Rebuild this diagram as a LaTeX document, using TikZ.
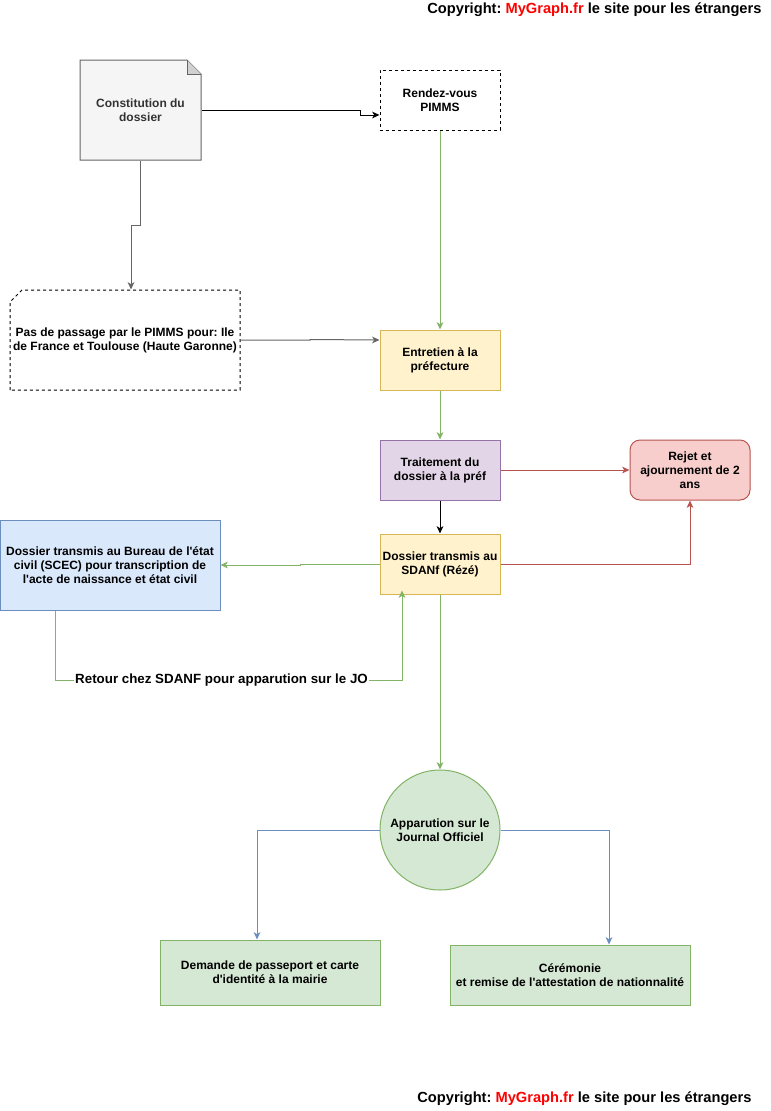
\documentclass[tikz,border=0pt]{standalone}
\usepackage{fontspec}
\setmainfont{Liberation Sans}
\usetikzlibrary{arrows.meta}
\frenchspacing
\definecolor{grayfill}{HTML}{F5F5F5}
\definecolor{graydraw}{HTML}{666666}
\definecolor{graytext}{HTML}{333333}
\definecolor{yelfill}{HTML}{FFF2CC}
\definecolor{yeldraw}{HTML}{D6B656}
\definecolor{purfill}{HTML}{E1D5E7}
\definecolor{purdraw}{HTML}{9673A6}
\definecolor{redfill}{HTML}{F8CECC}
\definecolor{reddraw}{HTML}{B85450}
\definecolor{bluefill}{HTML}{DAE8FC}
\definecolor{bluedraw}{HTML}{6C8EBF}
\definecolor{grnfill}{HTML}{D5E8D4}
\definecolor{grndraw}{HTML}{82B366}
\newcommand{\ap}{\textquotesingle}
\begin{document}
\begin{tikzpicture}[x=0.75pt,y=-0.75pt,line width=0.75pt,
  txt/.style={font=\fontsize{9}{10.5}\selectfont\bfseries,align=center,inner sep=0pt},
  box/.style={txt,draw,rectangle,minimum width=90pt,minimum height=45pt},
  arr/.style={-{Stealth[length=5.5pt,width=5pt,inset=1.5pt]}},
  copy/.style={font=\fontsize{11}{13}\selectfont\bfseries,inner sep=0pt}]
\useasboundingbox[fill=white] (0,0) rectangle (771,1111);
% copyright lines
\node[copy,anchor=north east] (cptop) at (762,2) {Copyright: \textcolor{red}{MyGraph.fr} le site pour les étrangers};
\node[copy,anchor=south east] (cpbot) at (752,1106) {Copyright: \textcolor{red}{MyGraph.fr} le site pour les étrangers};
% document and card outlines
\draw[graydraw,fill=grayfill] (80,160) -- (80,60) -- (187,60) -- (201,74) -- (201,160) -- cycle;
\draw[graydraw,fill=graydraw!30] (187,60) -- (187,74) -- (201,74);
\draw[dash pattern=on 2.25pt off 2.25pt] (10,390) -- (10,302) -- (22,290) -- (240,290) -- (240,390) -- cycle;
% nodes
\node[txt,minimum width=90.75pt,minimum height=75pt,text=graytext] (const) at (140.5,110) {Constitution du\\dossier};
\node[box,dashed,dash pattern=on 2.25pt off 2.25pt] (rdv) at (440,100) {Rendez-vous\\PIMMS};
\node[txt,minimum width=172.5pt,minimum height=75pt] (pas) at (125,340) {Pas de passage par le PIMMS pour: Ile\\de France et Toulouse (Haute Garonne)};
\node[box,fill=yelfill,draw=yeldraw] (entretien) at (440,360) {Entretien à la\\préfecture};
\node[box,fill=purfill,draw=purdraw] (traitement) at (440,470) {Traitement du\\dossier à la préf};
\node[box,fill=redfill,draw=reddraw,rounded corners=7.5pt] (rejet) at (690,470) {Rejet et\\ajournement de 2\\ans};
\node[box,fill=yelfill,draw=yeldraw] (sdanf) at (440,564) {Dossier transmis au\\SDANf (Rézé)};
\node[box,fill=bluefill,draw=bluedraw,minimum width=165pt,minimum height=67.5pt] (scec) at (110,565)
  {Dossier transmis au Bureau de l\ap état\\civil (SCEC) pour transcription de\\l\ap acte de naissance et état civil};
\node[txt,draw=grndraw,fill=grnfill,circle,minimum size=90pt] (jo) at (440,830) {Apparution sur le\\Journal Officiel};
\node[box,fill=grnfill,draw=grndraw,minimum width=165pt,minimum height=48.75pt] (demande) at (270,972.5)
  {Demande de passeport et carte\\d\ap identité à la mairie};
\node[box,fill=grnfill,draw=grndraw,minimum width=180pt] (ceremonie) at (570,975)
  {Cérémonie\\et remise de l\ap attestation de nationnalité};
% connectors
\draw[arr] (const.east) -- (360,110) -- (360,115) -- ([yshift=-11.25pt]rdv.west);
\draw[arr,graydraw] (const.south) -- (140.5,225) -- (131,225) -- ([xshift=4.5pt]pas.north);
\draw[arr,graydraw] (pas.east) -- (310,340) -- (310,339.5) -- ([yshift=15pt]entretien.west);
\draw[arr,grndraw] (rdv.south) -- (entretien.north);
\draw[arr,grndraw] (entretien.south) -- (traitement.north);
\draw[arr,reddraw] (traitement.east) -- (rejet.west);
\draw[arr] (traitement.south) -- (sdanf.north);
\draw[arr,reddraw] (sdanf.east) -| (rejet.south);
\draw[arr,grndraw] (sdanf.west) -- (300,564) -- (300,565) -- (scec.east);
\draw[arr,grndraw] ([xshift=-41.25pt]scec.south) -- (55,680) -- node[txt,fill=white,text=black,pos=0.48,font=\fontsize{10}{12}\selectfont\bfseries,inner xsep=1pt]
  (retour) {Retour chez SDANF pour apparution sur le JO} (402,680) -- ([xshift=-28.5pt,yshift=3pt]sdanf.south);
\draw[arr,grndraw] (sdanf.south) -- (jo.north);
\draw[arr,bluedraw] (jo.west) -| ([xshift=-9.75pt]demande.north);
\draw[arr,bluedraw] (jo.east) -| ([xshift=29.25pt]ceremonie.north);
\end{tikzpicture}
\end{document}
